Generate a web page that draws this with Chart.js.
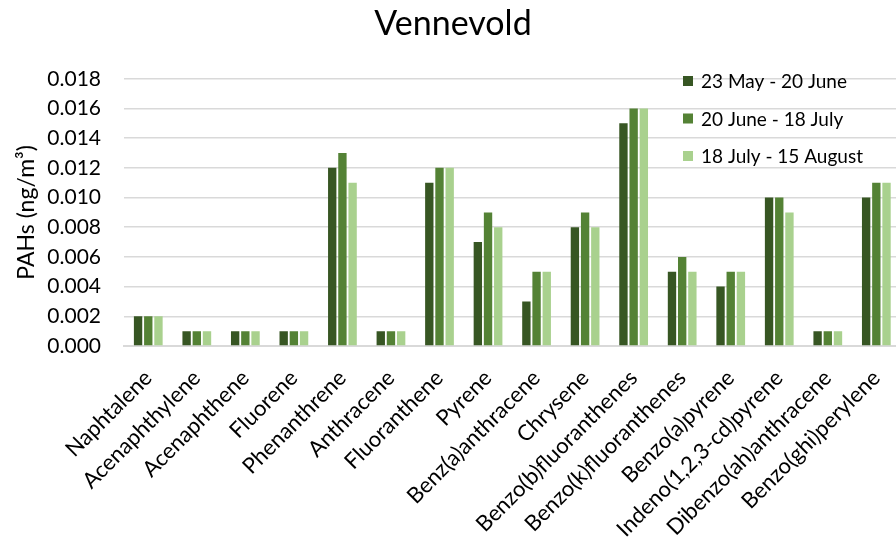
<!DOCTYPE html>
<html>
<head>
<meta charset="utf-8">
<script src="https://cdn.jsdelivr.net/npm/chart.js@4"></script>
<style>
  html, body { margin: 0; padding: 0; background: #fff; overflow: hidden; }
  #wrap { position: relative; width: 906px; height: 541px; }
</style>
</head>
<body>
<div id="wrap"><canvas id="pahChart"></canvas></div>
<script>
// PAH concentrations at Vennevold, three sampling periods
const compounds = [
  'Naphtalene', 'Acenaphthylene', 'Acenaphthene', 'Fluorene', 'Phenanthrene',
  'Anthracene', 'Fluoranthene', 'Pyrene', 'Benz(a)anthracene', 'Chrysene',
  'Benzo(b)fluoranthenes', 'Benzo(k)fluoranthenes', 'Benzo(a)pyrene',
  'Indeno(1,2,3-cd)pyrene', 'Dibenzo(ah)anthracene', 'Benzo(ghi)perylene'
];
const periods = ['23 May - 20 June', '20 June - 18 July', '18 July - 15 August'];
const mayJune = [0.002, 0.001, 0.001, 0.001, 0.012, 0.001, 0.011, 0.007, 0.003, 0.008, 0.015, 0.005, 0.004, 0.010, 0.001, 0.010];
const juneJuly = [0.002, 0.001, 0.001, 0.001, 0.013, 0.001, 0.012, 0.009, 0.005, 0.009, 0.016, 0.006, 0.005, 0.010, 0.001, 0.011];
const julyAug = [0.002, 0.001, 0.001, 0.001, 0.011, 0.001, 0.012, 0.008, 0.005, 0.008, 0.016, 0.005, 0.005, 0.009, 0.001, 0.011];
const colors = ['#375623', '#548235', '#a9d18e'];

const FONT = 'Lato, "Open Sans", sans-serif';

// legend sits inside the plot, top right
const insideLegend = {
  id: 'insideLegend',
  afterDraw(chart) {
    const ctx = chart.ctx;
    ctx.save();
    ctx.font = `19px ${FONT}`;
    ctx.textBaseline = 'middle';
    ctx.textAlign = 'left';
    chart.data.datasets.forEach((ds, i) => {
      const y = 81 + i * 37.5;
      ctx.fillStyle = ds.backgroundColor;
      ctx.fillRect(683, y - 5, 10, 10);
      ctx.fillStyle = '#000';
      ctx.fillText(ds.label, 701, y + 1);
    });
    ctx.restore();
  }
};

const series = [mayJune, juneJuly, julyAug];

new Chart(document.getElementById('pahChart'), {
  type: 'bar',
  data: {
    labels: compounds,
    datasets: series.map((d, i) => ({
      label: periods[i],
      data: d,
      backgroundColor: colors[i],
      categoryPercentage: 0.63,
      barPercentage: 0.82
    }))
  },
  options: {
    responsive: true,
    maintainAspectRatio: false,
    animation: false,
    layout: { padding: { left: 0, right: 0, top: 0, bottom: 0 } },
    plugins: {
      legend: { display: false },
      tooltip: { enabled: false },
      title: {
        display: true,
        text: 'Vennevold',
        color: '#000',
        font: { family: FONT, size: 34, weight: 'normal' },
        padding: { top: 4, bottom: 34 }
      }
    },
    scales: {
      x: {
        grid: { display: false },
        border: { color: '#d9d9d9', width: 2 },
        ticks: {
          autoSkip: false,
          maxRotation: 45,
          minRotation: 45,
          padding: 11,
          color: '#000',
          font: { family: FONT, size: 22 }
        },
        afterFit(scale) { scale.height = 195; }
      },
      y: {
        min: 0,
        max: 0.018,
        grid: { color: '#d9d9d9', lineWidth: 1.5, drawTicks: false },
        border: { display: false },
        ticks: {
          stepSize: 0.002,
          padding: 23,
          color: '#000',
          font: { family: FONT, size: 21 },
          callback: v => v.toFixed(3)
        },
        title: {
          display: true,
          text: 'PAHs (ng/m³)',
          color: '#000',
          font: { family: FONT, size: 23 },
          padding: { top: 13, bottom: 0 }
        },
        afterFit(scale) { scale.width = 124; }
      }
    }
  },
  plugins: [insideLegend]
});
</script>
</body>
</html>
